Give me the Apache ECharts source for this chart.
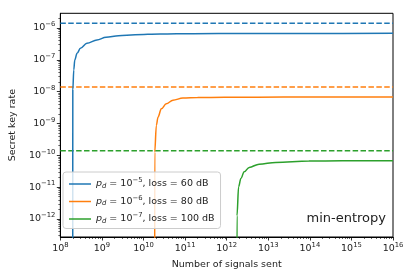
<!DOCTYPE html>
<html>
<head>
<meta charset="utf-8">
<script src="https://cdn.jsdelivr.net/npm/echarts@6/dist/echarts.min.js"></script>
<style>html,body{margin:0;padding:0;background:#fff}#c{width:415px;height:277px}</style>
</head>
<body>
<div id="c"></div>
<script>
// ---- data (log10 of values) ----
const xTickExps = [8, 9, 10, 11, 12, 13, 14, 15, 16];
const yTickExps = [-12, -11, -10, -9, -8, -7, -6];

const seriesNames = ['pd=1e-5, loss=60 dB', 'pd=1e-6, loss=80 dB', 'pd=1e-7, loss=100 dB'];
const legendExps = ['5', '6', '7'];
const legendLoss = ['60', '80', '100'];

// blue: p_d = 1e-5, loss = 60 dB
const blueLogN = [8.298, 8.300, 8.323, 8.347, 8.402, 8.483, 8.641, 8.880, 9.10, 9.40, 9.80, 10.4, 11.2, 12.4, 14.0, 16.0];
const blueLogR = [-14, -7.95, -7.32, -7.006, -6.796, -6.638, -6.481, -6.377, -6.29, -6.24, -6.21, -6.19, -6.178, -6.171, -6.169, -6.168];
// orange: p_d = 1e-6, loss = 80 dB
const orangeLogN = [10.268, 10.270, 10.309, 10.349, 10.428, 10.548, 10.708, 10.947, 11.3, 11.943, 12.742, 14.0, 16.0];
const orangeLogR = [-15, -9.9, -9.06, -8.80, -8.54, -8.38, -8.27, -8.20, -8.185, -8.179, -8.172, -8.169, -8.168];
// green: p_d = 1e-7, loss = 100 dB
const greenLogN = [12.246, 12.248, 12.287, 12.342, 12.421, 12.541, 12.78, 13.179, 13.976, 14.775, 16.0];
const greenLogR = [-15, -11.9, -10.99, -10.726, -10.519, -10.38, -10.277, -10.223, -10.182, -10.173, -10.168];

// asymptotic (dashed) rates
const boundRates = [1.4e-6, 1.4e-8, 1.4e-10];

const xRange = [8, 16];
const yRange = [-12.566, -5.538];

// ---- build ----
const colors = ['#1f77b4', '#ff7f0e', '#2ca02c'];
const FONT = 'DejaVu Sans';
const zip = (a, b) => a.map((v, i) => [v, b[i]]);
const curves = [zip(blueLogN, blueLogR), zip(orangeLogN, orangeLogR), zip(greenLogN, greenLogR)];

function minorTicks(lo, hi) {
  const out = [];
  for (let n = Math.floor(lo) - 1; n <= Math.ceil(hi); n++) {
    for (let k = 2; k <= 9; k++) {
      const v = n + Math.log10(k);
      if (v > lo && v < hi) out.push(v);
    }
  }
  return out;
}
const expLabel = v => {
  const e = Math.round(v);
  return '{b|10}{s|' + (e < 0 ? '\u2212' + (-e) : e) + '}';
};
const tickRich = {
  b: { fontFamily: FONT, fontSize: 9.5, color: '#222' },
  s: { fontFamily: FONT, fontSize: 6.8, color: '#222', padding: [0, 0, 7, 0] }
};

const series = [];
curves.forEach((d, i) => {
  series.push({
    name: seriesNames[i], type: 'line', data: d, showSymbol: false, symbol: 'none',
    smooth: 0.35, smoothMonotone: 'x',
    lineStyle: { color: colors[i], width: 1.5 }, itemStyle: { color: colors[i] },
    clip: true, z: 3, animation: false
  });
});
boundRates.forEach((r, i) => {
  series.push({
    type: 'line', data: [[xRange[0], Math.log10(r)], [xRange[1], Math.log10(r)]],
    showSymbol: false, symbol: 'none',
    lineStyle: { color: colors[i], width: 1.5, type: [5.5, 2.4] },
    clip: true, z: 2, animation: false, silent: true
  });
});

const axisCommon = {
  type: 'value', splitLine: { show: false }, scale: true
};

const option = {
  animation: false,
  grid: { left: 58.5, right: 22, top: 13.3, bottom: 40, show: true, borderColor: '#000', borderWidth: 1, backgroundColor: 'transparent' },
  xAxis: [
    Object.assign({}, axisCommon, {
      min: xRange[0], max: xRange[1], position: 'bottom',
      name: 'Number of signals sent', nameLocation: 'middle', nameGap: 23,
      nameTextStyle: { fontFamily: FONT, fontSize: 9.5, color: '#222' },
      axisLine: { show: true, lineStyle: { color: '#000', width: 1 } },
      axisTick: { show: true, length: 3.5, inside: false, customValues: xTickExps, lineStyle: { color: '#000', width: 0.8 } },
      axisLabel: { customValues: xTickExps, formatter: expLabel, rich: tickRich, margin: 5 }
    }),
    Object.assign({}, axisCommon, {
      min: xRange[0], max: xRange[1], position: 'bottom',
      axisLine: { show: false },
      axisTick: { show: true, length: 2, customValues: minorTicks(xRange[0], xRange[1]), lineStyle: { color: '#000', width: 0.6 } },
      axisLabel: { show: false }
    })
  ],
  yAxis: [
    Object.assign({}, axisCommon, {
      min: yRange[0], max: yRange[1], position: 'left',
      name: 'Secret key rate', nameLocation: 'middle', nameGap: 38,
      nameTextStyle: { fontFamily: FONT, fontSize: 9.5, color: '#222' },
      axisLine: { show: true, lineStyle: { color: '#000', width: 1 } },
      axisTick: { show: true, length: 3.5, customValues: yTickExps, lineStyle: { color: '#000', width: 0.8 } },
      axisLabel: { customValues: yTickExps, formatter: expLabel, rich: tickRich, margin: 5 }
    }),
    Object.assign({}, axisCommon, {
      min: yRange[0], max: yRange[1], position: 'left',
      axisLine: { show: false },
      axisTick: { show: true, length: 2, customValues: minorTicks(yRange[0], yRange[1]), lineStyle: { color: '#000', width: 0.6 } },
      axisLabel: { show: false }
    })
  ],
  legend: {
    data: seriesNames.map(n => ({ name: n, icon: 'path://M0,4.25 L22,4.25 L22,5.75 L0,5.75 Z' })),
    orient: 'vertical', left: 63, top: 172,
    itemWidth: 22, itemHeight: 10, itemGap: 5,
    padding: [5, 6, 4, 6],
    backgroundColor: 'rgba(255,255,255,0.8)', borderColor: '#cccccc', borderWidth: 1, borderRadius: 3,
    formatter: name => {
      const i = seriesNames.indexOf(name);
      return '{i|p}{d|d}{t| = 10}{s|\u2212' + legendExps[i] + '}{t|, loss = ' + legendLoss[i] + ' dB}';
    },
    textStyle: {
      fontFamily: FONT, fontSize: 9.5, color: '#222',
      rich: {
        i: { fontFamily: FONT, fontSize: 9.5, fontStyle: 'italic', color: '#222' },
        d: { fontFamily: FONT, fontSize: 6.8, fontStyle: 'italic', color: '#222', padding: [4, 0, 0, 0] },
        t: { fontFamily: FONT, fontSize: 9.5, color: '#222' },
        s: { fontFamily: FONT, fontSize: 6.8, color: '#222', padding: [0, 0, 7, 0] }
      }
    }
  },
  graphic: [{
    type: 'text', right: 29, top: 212,
    style: { text: 'min-entropy', fontFamily: FONT, fontSize: 13, fill: '#222' }
  }],
  series: series
};

const chart = echarts.init(document.getElementById('c'), null, { renderer: 'canvas' });
chart.setOption(option);
</script>
</body>
</html>
